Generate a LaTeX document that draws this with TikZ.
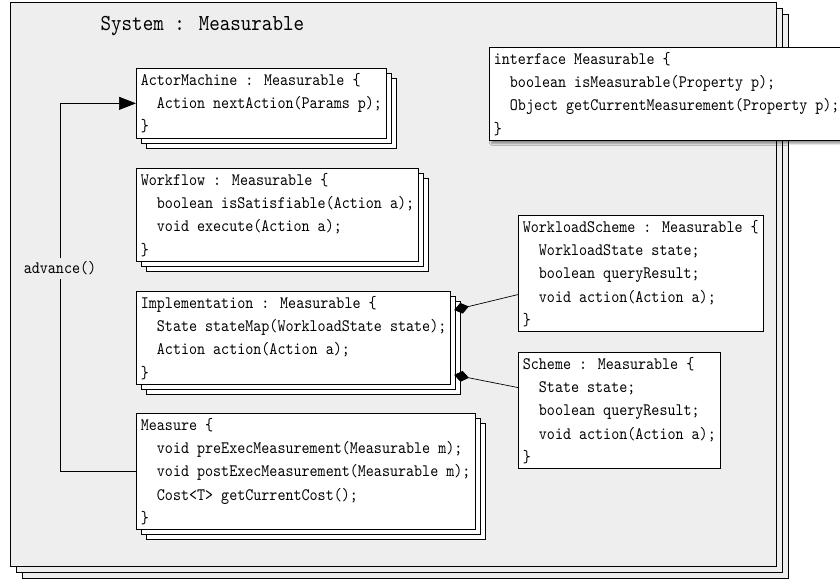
\documentclass[tikz,border=0pt]{standalone}
\usepackage{fontspec}
\usepackage{tikz}
\usetikzlibrary{arrows.meta,shadows,shadows.blur}
\newfontfamily\codefont{lmmono10-regular.otf}[FakeStretch=0.875]
\definecolor{sysgray}{RGB}{238,238,238}
\newcommand{\indt}{\hspace*{2\fontcharwd\font`\ }}

\begin{document}
\begin{tikzpicture}[x=1pt,y=-1pt,line width=0.7pt,
  every node/.style={font=\codefont\fontsize{17.5}{23.2}\selectfont},
  codebox/.style={draw,fill=white,align=left,anchor=north west,inner xsep=4.5pt,inner ysep=5pt},
  stackbox/.style={codebox,
    copy shadow={shadow xshift=10pt,shadow yshift=-10pt,draw=black,fill=white},
    copy shadow={shadow xshift=5pt,shadow yshift=-5pt,draw=black,fill=white}},
  sysbox/.style={draw,fill=sysgray,anchor=north west,inner sep=0pt,
    copy shadow={shadow xshift=12pt,shadow yshift=-12pt,draw=black,fill=sysgray},
    copy shadow={shadow xshift=6pt,shadow yshift=-6pt,draw=black,fill=sysgray}},
  composite/.style={{Diamond[length=15pt,width=11pt]}-},
  flow/.style={-{Triangle[length=17pt,width=13pt]}}]
  \useasboundingbox (0,0) rectangle (840,579);
  % the system container
  \node[sysbox,minimum width=766pt,minimum height=564pt] (sys) at (10,2) {};
  \node[font=\codefont\fontsize{22.9}{26}\selectfont,anchor=base west] (title) at (97,30) {System : Measurable};
  % stacked components
  \node[stackbox] (actor) at (136,68) {ActorMachine : Measurable \{\\
    \indt Action nextAction(Params p);\\
    \}};
  \node[stackbox] (workflow) at (136,168) {Workflow : Measurable \{\\
    \indt boolean isSatisfiable(Action a);\\
    \indt void execute(Action a);\\
    \}};
  \node[stackbox] (impl) at (136,291) {Implementation : Measurable \{\\
    \indt State stateMap(WorkloadState state);\\
    \indt Action action(Action a);\\
    \}};
  \node[stackbox] (measure) at (136,413) {Measure \{\\
    \indt void preExecMeasurement(Measurable m);\\
    \indt void postExecMeasurement(Measurable m);\\
    \indt Cost<T> getCurrentCost();\\
    \}};
  % schemes
  \node[codebox] (ws) at (518,215) {WorkloadScheme : Measurable \{\\
    \indt WorkloadState state;\\
    \indt boolean queryResult;\\
    \indt void action(Action a);\\
    \}};
  \node[codebox] (scheme) at (518,352) {Scheme : Measurable \{\\
    \indt State state;\\
    \indt boolean queryResult;\\
    \indt void action(Action a);\\
    \}};
  % interface
  \node[codebox,blur shadow={shadow xshift=2pt,shadow yshift=-3pt,shadow blur steps=6}] (iface) at (489,47) {interface Measurable \{\\
    \indt boolean isMeasurable(Property p);\\
    \indt Object getCurrentMeasurement(Property p);\\
    \}};
  % connectors
  \draw[composite] ([xshift=3pt,yshift=-19pt]impl.north east) -- ([yshift=-21pt]ws.west);
  \draw[composite] ([xshift=3pt,yshift=10pt]impl.south east) -- ([yshift=23pt]scheme.west);
  \draw[flow] (measure.west) -- ++(-76,0) |- node[pos=0.276,fill=sysgray,inner ysep=4pt] (adv) {advance()} (actor.west);
\end{tikzpicture}
\end{document}
